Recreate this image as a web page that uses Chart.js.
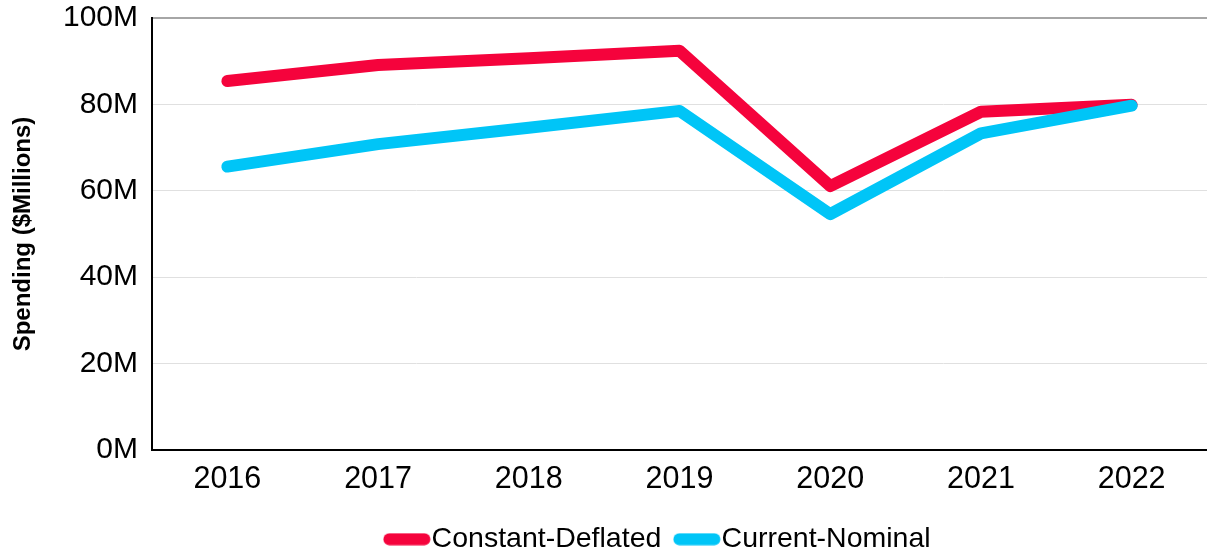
<!DOCTYPE html>
<html>
<head>
<meta charset="utf-8">
<script src="https://cdn.jsdelivr.net/npm/chart.js@4/dist/chart.umd.min.js"></script>
<style>
  html, body { margin: 0; padding: 0; background: #fff; }
  #wrap { width: 1207px; height: 555px; }
</style>
</head>
<body>
<div id="wrap"><canvas id="myChart"></canvas></div>
<script>
// data (millions)
var years = ['2016', '2017', '2018', '2019', '2020', '2021', '2022'];
var constantDeflated = [85.4, 89.1, 90.7, 92.4, 61.1, 78.3, 79.9];
var currentNominal = [65.6, 70.8, 74.6, 78.5, 54.6, 73.3, 79.7];
var yTicks = [0, 20, 40, 60, 80, 100];

var RED = '#F5033C';
var BLUE = '#00C5F7';
var FONT = "'Liberation Sans', Arial, sans-serif";

// rounded line used as legend marker
function legendLine(color) {
  var c = document.createElement('canvas');
  c.width = 48; c.height = 13;
  var g = c.getContext('2d');
  g.strokeStyle = color;
  g.lineWidth = 12;
  g.lineCap = 'round';
  g.beginPath();
  g.moveTo(6.5, 6.5);
  g.lineTo(41.5, 6.5);
  g.stroke();
  return c;
}

// move the legend a bit right/down like the original
var legendShift = {
  id: 'legendShift',
  afterLayout: function (chart) {
    chart.legend.left += 60;
    chart.legend.right += 60;
    chart.legend.top += 3;
    chart.legend.bottom += 3;
  }
};

var ctx = document.getElementById('myChart').getContext('2d');
var myChart = new Chart(ctx, {
  type: 'line',
  data: {
    labels: years,
    datasets: [{
      label: 'Constant-Deflated',
      data: constantDeflated,
      borderColor: RED,
      backgroundColor: RED,
      borderWidth: 12,
      borderCapStyle: 'round',
      borderJoinStyle: 'round',
      pointRadius: 0,
      pointStyle: legendLine(RED),
      tension: 0,
      order: 1
    }, {
      label: 'Current-Nominal',
      data: currentNominal,
      borderColor: BLUE,
      backgroundColor: BLUE,
      borderWidth: 12,
      borderCapStyle: 'round',
      borderJoinStyle: 'round',
      pointRadius: 0,
      pointStyle: legendLine(BLUE),
      tension: 0,
      order: 0
    }]
  },
  options: {
    responsive: true,
    maintainAspectRatio: false,
    animation: false,
    events: [],
    layout: { padding: 0 },
    plugins: {
      tooltip: { enabled: false },
      legend: {
        position: 'bottom',
        maxHeight: 58,
        labels: {
          usePointStyle: true,
          pointStyleWidth: 21,
          padding: 25,
          color: '#000',
          font: { family: FONT, size: 28.5 },
          sort: function (a, b) { return a.datasetIndex - b.datasetIndex; }
        }
      }
    },
    scales: {
      x: {
        offset: true,
        afterFit: function (scale) { scale.height = 47; },
        grid: { display: true, drawOnChartArea: false, drawTicks: false },
        border: { display: true, color: '#000', width: 2 },
        ticks: { color: '#000', padding: 11, font: { family: FONT, size: 30.5 } }
      },
      y: {
        min: 0,
        max: 100,
        afterBuildTicks: function (scale) {
          scale.ticks = yTicks.map(function (v) { return { value: v }; });
        },
        afterFit: function (scale) {
          scale.width = 152;
          scale.paddingTop = 18;
          scale.paddingBottom = 18;
        },
        grid: {
          drawTicks: false,
          color: function (c) {
            if (c.tick.value === 100) return '#a6a6a6';
            return '#e0e0e0';
          },
          lineWidth: function (c) { return c.tick.value === 100 ? 2 : 1; }
        },
        border: { display: true, color: '#000', width: 2 },
        ticks: {
          color: '#000',
          padding: 14,
          font: { family: FONT, size: 30 },
          callback: function (v) { return v + 'M'; }
        },
        title: {
          display: true,
          text: 'Spending ($Millions)',
          color: '#000',
          padding: { top: 9, bottom: 4 },
          font: { family: FONT, size: 24, weight: 'bold' }
        }
      }
    }
  },
  plugins: [legendShift]
});
</script>
</body>
</html>
